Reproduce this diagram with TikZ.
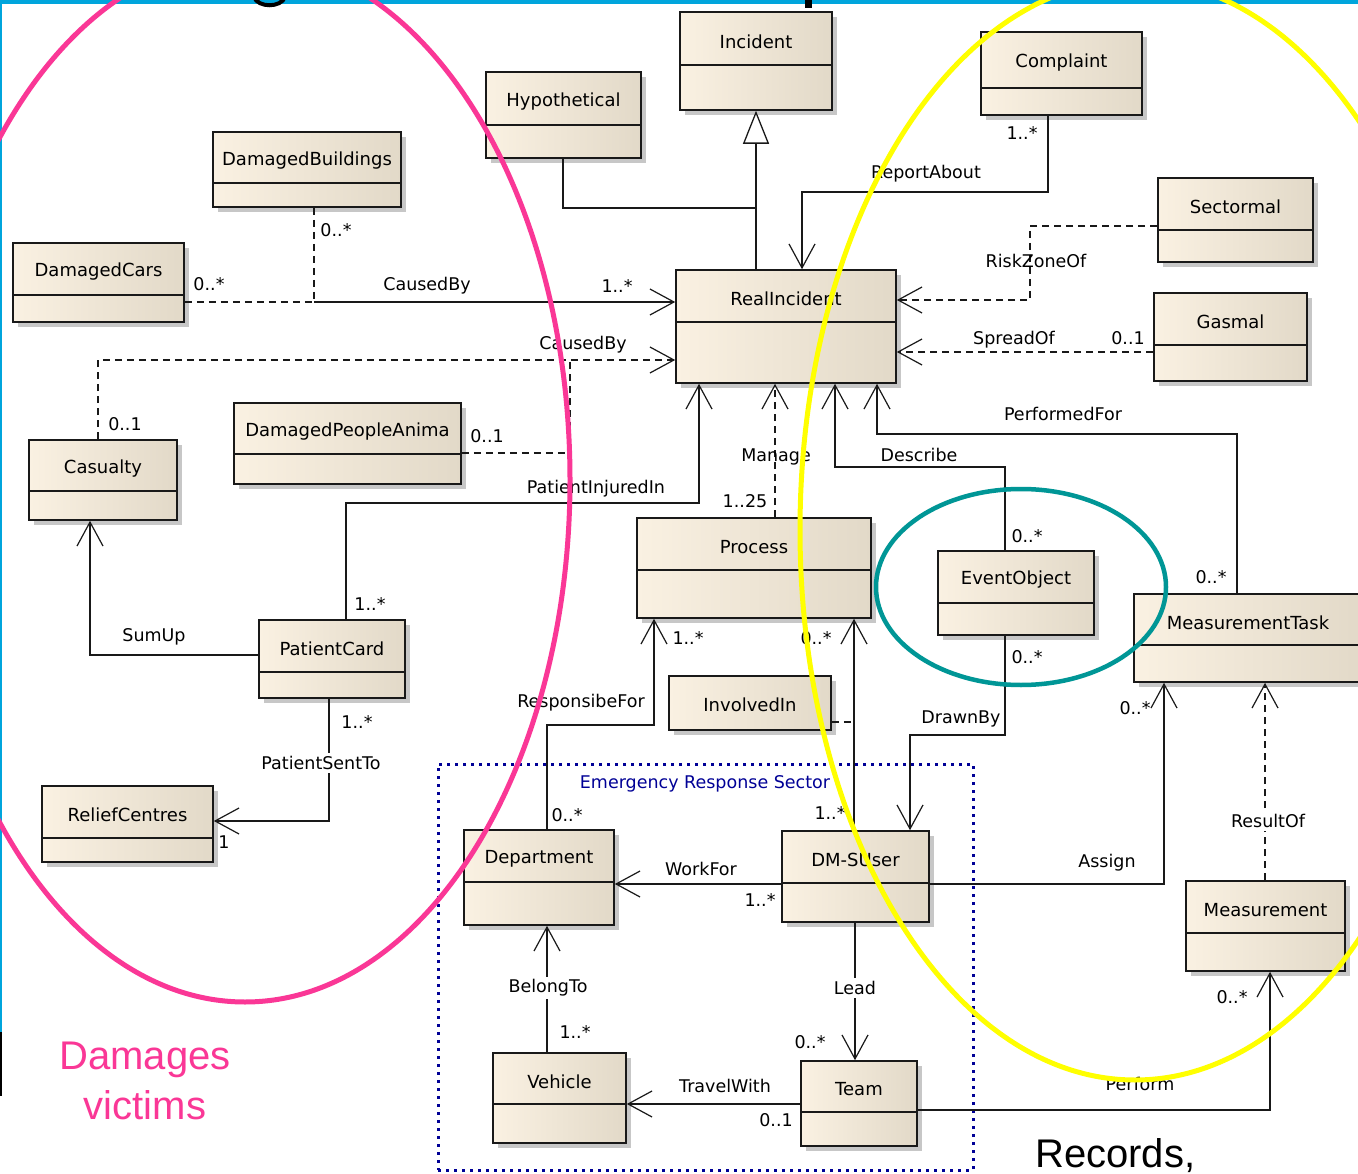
\documentclass[tikz,border=0pt]{standalone}
\usepackage{fontspec}
\setmainfont{DejaVu Sans}
\newfontfamily\notefont{Liberation Sans}
\usetikzlibrary{arrows.meta,shadows}

\definecolor{creamL}{RGB}{250,241,226}
\definecolor{creamR}{RGB}{226,217,200}
\definecolor{lineink}{RGB}{25,25,25}
\definecolor{hotpink}{RGB}{250,55,150}
\definecolor{lemon}{RGB}{255,255,0}
\definecolor{tealring}{RGB}{0,150,150}
\definecolor{sectorblue}{RGB}{0,0,150}
\definecolor{slideblue}{RGB}{0,165,220}

\tikzset{
  cls/.style={draw=lineink, line width=1.6pt, inner sep=0pt,
    left color=creamL, right color=creamR,
    drop shadow={shadow xshift=5pt, shadow yshift=-5pt, fill=black!22, opacity=1}},
  ctitle/.style={font=\fontsize{18}{20}\selectfont, text=black, inner sep=0pt},
  lbl/.style={font=\fontsize{17.5}{20}\selectfont, inner sep=1pt},
  gaplbl/.style={lbl, fill=white, inner sep=3pt},
  assoc/.style={draw=lineink, line width=1.3pt},
  dep/.style={assoc, dash pattern=on 7pt off 5pt},
  nav/.style={-{Straight Barb[length=24pt,width=26pt,line width=1.2pt]}},
  gen/.style={-{Triangle[length=33pt,width=26pt,fill=white,line width=1.3pt]}},
}

% class box: name, x1, y1, x2, y2, divider y, title
\newcommand\umlclass[7]{%
  \node[cls, minimum width={(#4-#2)*1pt}, minimum height={(#5-#3)*1pt}]
    (#1) at ({(#2+#4)/2},{(#3+#5)/2}) {};
  \draw[draw=lineink, line width=1.6pt] (#2,#6) -- (#4,#6);
  \node[ctitle] at ({(#2+#4)/2},{(#3+#6)/2+3}) {#7};
}

\begin{document}
\begin{tikzpicture}[x=1pt,y=-1pt]
\useasboundingbox (0,0) rectangle (1358,1174);
\clip (0,0) rectangle (1358,1174);
\fill[white] (0,0) rectangle (1358,1174);

% slide frame
\fill[slideblue] (0,0) rectangle (1358,4);
\fill[slideblue] (0,0) rectangle (2,1032);
\fill[black] (0,1032) rectangle (2,1096);
\draw[black, line width=4pt] (254,-3) .. controls (258,8) and (281,8) .. (285,-3);
\fill[black] (805,0) rectangle (812,8);

% package frame
\node[draw=sectorblue, line width=3pt, dash pattern=on 3pt off 5pt,
      minimum width=535pt, minimum height=406pt, inner sep=0pt]
      (ers) at (705.5,967) {};
\node[lbl, text=sectorblue] (erslbl) at (705,784) {Emergency Response Sector};

% classes
\umlclass{inc}{680}{12}{832}{110}{65}{Incident}
\umlclass{hyp}{486}{72}{641}{158}{125}{Hypothetical}
\umlclass{compl}{981}{32}{1142}{115}{88}{Complaint}
\umlclass{dbld}{213}{132}{401}{207}{183}{DamagedBuildings}
\umlclass{dcars}{13}{243}{184}{322}{295}{DamagedCars}
\umlclass{real}{676}{270}{896}{383}{322}{RealIncident}
\umlclass{sect}{1158}{178}{1313}{262}{230}{Sectormal}
\umlclass{gas}{1154}{293}{1307}{381}{345}{Gasmal}
\umlclass{cas}{29}{440}{177}{520}{491}{Casualty}
\umlclass{dpa}{234}{403}{461}{484}{454}{DamagedPeopleAnima}
\umlclass{proc}{637}{518}{871}{618}{570}{Process}
\umlclass{evt}{938}{551}{1094}{635}{603}{EventObject}
\umlclass{mtask}{1134}{594}{1362}{682}{645}{MeasurementTask}
\umlclass{pcard}{259}{620}{405}{698}{672}{PatientCard}
\node[cls, minimum width=162pt, minimum height=54pt] (inv) at (750,703) {};
\node[ctitle] at (750,705) {InvolvedIn};
\umlclass{relief}{42}{786}{213}{862}{838}{ReliefCentres}
\umlclass{dept}{464}{830}{614}{925}{882}{Department}
\umlclass{dms}{782}{831}{929}{922}{883}{DM-SUser}
\umlclass{meas}{1186}{881}{1345}{971}{933}{Measurement}
\umlclass{veh}{493}{1053}{626}{1143}{1104}{Vehicle}
\umlclass{team}{801}{1061}{917}{1146}{1112}{Team}

% junction points
\coordinate (genjoin) at (756,208);
\coordinate (cb1) at (314,302);
\coordinate (cb2) at (570,360);

% generalization
\draw[assoc,gen] (real.north -| genjoin) -- (inc.south -| genjoin);
\draw[assoc] (hyp.south -| 563,0) |- (genjoin);

% associations into RealIncident
\draw[assoc,nav] (compl.south -| 1048,0) |- (802,192) -- (real.north -| 802,0);
\draw[dep,nav] (sect.west |- 0,226) -| (1030,300) -- (real.east |- 0,300);
\draw[dep,nav] (gas.west |- 0,352) -- (real.east |- 0,352);
\draw[dep] (dcars.east |- cb1) -- (cb1);
\draw[dep] (dbld.south -| cb1) -- (cb1);
\draw[assoc,nav] (cb1) -- (real.west |- cb1);
\draw[dep,nav] (cas.north -| 98,0) |- (real.west |- cb2);
\draw[dep] (dpa.east |- 0,453) -| (cb2);
\draw[assoc,nav] (pcard.north -| 346,0) |- (699,503) -- (real.south -| 699,0);
\draw[dep,nav] (proc.north -| 775,0) -- (real.south -| 775,0);
\draw[assoc,nav] (evt.north -| 1005,0) |- (835,467) -- (real.south -| 835,0);
\draw[assoc,nav] (mtask.north -| 1237,0) |- (877,434) -- (real.south -| 877,0);

% patient card
\draw[assoc,nav] (pcard.west |- 0,655) -| (cas.south -| 90,0);
\draw[assoc,nav] (pcard.south -| 329,0) |- (relief.east |- 0,821);

% process, event object, measurement task
\draw[assoc,nav] (dept.north -| 547,0) |- (654,725) -- (proc.south -| 654,0);
\draw[assoc,nav] (dms.north -| 854,0) -- (proc.south -| 854,0);
\draw[dep] (inv.east |- 0,722) -- (854,722);
\draw[assoc,nav] (evt.south -| 1005,0) |- (910,735) -- (dms.north -| 910,0);
\draw[assoc,nav] (dms.east |- 0,884) -| (mtask.south -| 1164,0);
\draw[dep,nav] (meas.north -| 1265,0) -- (mtask.south -| 1265,0);

% emergency response sector
\draw[assoc,nav] (dms.west |- 0,884) -- (dept.east |- 0,884);
\draw[assoc,nav] (veh.north -| 547,0) -- (dept.south -| 547,0);
\draw[assoc,nav] (dms.south -| 855,0) -- (team.north -| 855,0);
\draw[assoc,nav] (team.west |- 0,1104) -- (veh.east |- 0,1104);
\draw[assoc,nav] (team.east |- 0,1110) -| (meas.south -| 1270,0);

% association names and multiplicities
\node[lbl] at (209,284) {0..*};
\node[lbl] at (336,230) {0..*};
\node[lbl] at (427,286) {CausedBy};
\node[lbl] at (617,286) {1..*};
\node[lbl] at (583,345) {CausedBy};
\node[lbl] at (125,424) {0..1};
\node[lbl] at (487,436) {0..1};
\node[lbl] at (926,174) {ReportAbout};
\node[lbl] at (1022,133) {1..*};
\node[lbl] at (1036,261) {RiskZoneOf};
\node[lbl] at (1014,340) {SpreadOf};
\node[lbl] at (1128,338) {0..1};
\node[lbl] at (1063,414) {PerformedFor};
\node[lbl] at (919,455) {Describe};
\node[lbl] at (776,457) {Manage};
\node[lbl] at (596,489) {PatientInjuredIn};
\node[lbl] at (745,501) {1..25};
\node[lbl] at (1027,536) {0..*};
\node[lbl] at (1211,577) {0..*};
\node[lbl] at (370,604) {1..*};
\node[lbl] at (154,637) {SumUp};
\node[lbl] at (688,638) {1..*};
\node[lbl] at (816,638) {0..*};
\node[lbl] at (1027,657) {0..*};
\node[lbl] at (581,703) {ResponsibeFor};
\node[lbl] at (1135,708) {0..*};
\node[lbl] at (961,719) {DrawnBy};
\node[lbl] at (357,722) {1..*};
\node[gaplbl] at (321,763) {PatientSentTo};
\node[lbl] at (567,815) {0..*};
\node[lbl] at (830,813) {1..*};
\node[gaplbl] at (1268,821) {ResultOf};
\node[lbl] at (224,842) {1};
\node[lbl] at (701,869) {WorkFor};
\node[lbl] at (1107,863) {Assign};
\node[lbl] at (760,900) {1..*};
\node[gaplbl] at (548,988) {BelongTo};
\node[gaplbl] at (855,988) {Lead};
\node[lbl] at (1232,997) {0..*};
\node[lbl] at (575,1032) {1..*};
\node[lbl] at (810,1042) {0..*};
\node[lbl] at (725,1086) {TravelWith};
\node[lbl] at (1140,1084) {Perform};
\node[lbl] at (776,1120) {0..1};

% highlight rings
\draw[hotpink, line width=5pt] (245,480) ellipse [x radius=325pt, y radius=522pt];
\draw[lemon, line width=5pt] (1135,530) ellipse [x radius=335pt, y radius=550pt];
\draw[tealring, line width=4.5pt] (1021,587) ellipse [x radius=145pt, y radius=98pt];

% notes
\node[text=hotpink, font=\notefont\fontsize{40}{50}\selectfont, align=center]
  (dmg) at (145,1081) {Damages\\victims};
\node[font=\notefont\fontsize{40}{50}\selectfont, anchor=base west, inner sep=0pt]
  (rec) at (1035,1167) {Records,};
\end{tikzpicture}
\end{document}
